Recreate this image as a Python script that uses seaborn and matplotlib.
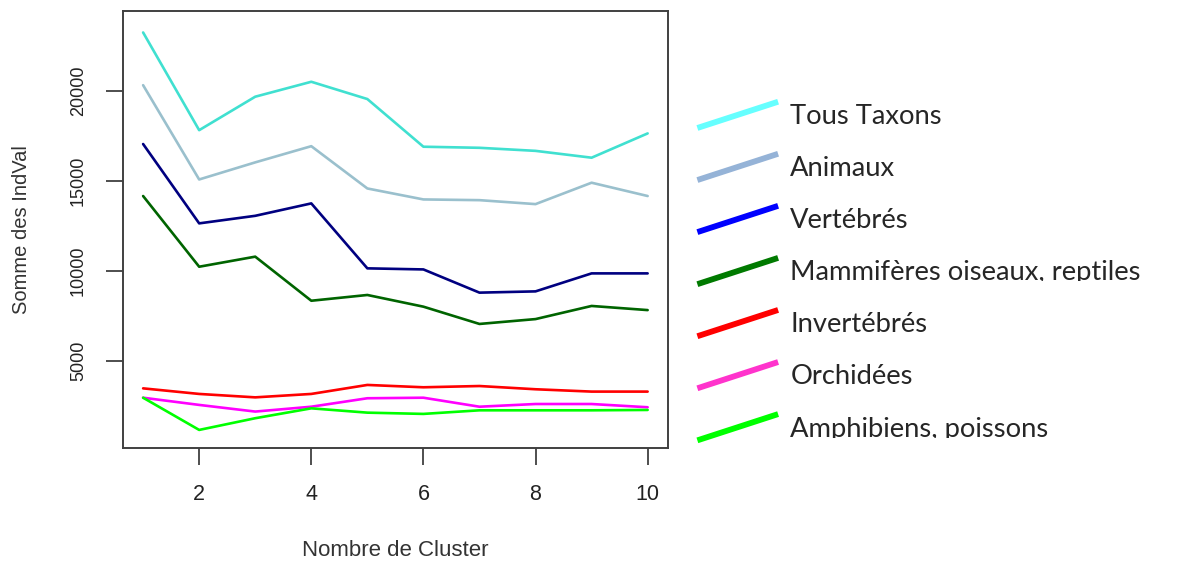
import numpy as np
import pandas as pd
import seaborn as sns
import matplotlib
matplotlib.use("Agg")
import matplotlib.pyplot as plt
from matplotlib.lines import Line2D
from matplotlib.legend_handler import HandlerLine2D
from matplotlib.transforms import Bbox

# Number of clusters tested
clusters = [1, 2, 3, 4, 5, 6, 7, 8, 9, 10]

# Sum of IndVal per taxonomic group
tous_taxons = [23260, 17830, 19690, 20520, 19560, 16910, 16850, 16680, 16300, 17650]
animaux = [20330, 15090, 16040, 16940, 14590, 13980, 13940, 13720, 14910, 14170]
vertebres = [17060, 12650, 13070, 13760, 10150, 10090, 8800, 8870, 9870, 9870]
mammiferes = [14170, 10240, 10800, 8350, 8670, 8020, 7060, 7330, 8060, 7830]
invertebres = [3480, 3170, 2980, 3170, 3670, 3540, 3610, 3430, 3300, 3300]
orchidees = [2960, 2560, 2190, 2460, 2930, 2960, 2460, 2610, 2610, 2430]
amphibiens = [2960, 1170, 1820, 2370, 2130, 2060, 2260, 2260, 2260, 2280]

groups = ["Tous Taxons", "Animaux", "Vertébrés", "Mammifères oiseaux, reptiles",
          "Invertébrés", "Orchidées", "Amphibiens, poissons"]
series = [tous_taxons, animaux, vertebres, mammiferes, invertebres, orchidees, amphibiens]

line_colors = ["#40E0D0", "#9AC0CD", "#000080", "#006400", "#FF0000", "#FF00FF", "#00FF00"]
key_colors = ["#66FFFF", "#95B3D7", "#0000FF", "#007A00", "#FF0000", "#FF33CC", "#00FF00"]

df = pd.DataFrame({
    "cluster": np.tile(clusters, len(groups)),
    "indval": np.concatenate(series),
    "groupe": np.repeat(groups, len(clusters)),
})

sns.set_theme(style="white")
plt.rcParams["font.family"] = ["Liberation Sans", "DejaVu Sans"]

fig = plt.figure(figsize=(11.82, 5.62), dpi=100)
ax = fig.add_axes([0.104, 0.203, 0.461, 0.777])

sns.lineplot(data=df, x="cluster", y="indval", hue="groupe", hue_order=groups,
             palette=dict(zip(groups, line_colors)), linewidth=1.9, ax=ax,
             legend=False)

ax.set_xlim(0.64, 10.36)
ax.set_ylim(170, 24440)
ax.set_xticks([2, 4, 6, 8, 10])
ax.set_yticks([5000, 10000, 15000, 20000])

for side in ax.spines.values():
    side.set_color("#404040")
    side.set_linewidth(1.4)
    side.set_visible(True)

ax.tick_params(axis="both", direction="out", length=12, width=1.3,
               color="#404040", labelcolor="#222222", pad=14)
ax.tick_params(axis="x", bottom=True, labelsize=15.5)
ax.tick_params(axis="y", left=True, labelsize=13)
plt.setp(ax.get_yticklabels(), rotation=90, va="center")

ax.set_xlabel("Nombre de Cluster", fontsize=16, color="#333333", labelpad=25)
ax.set_ylabel("Somme des IndVal", fontsize=14.5, color="#333333", labelpad=28)


class SlantedLine(HandlerLine2D):
    """Legend key drawn as a rising diagonal stroke."""

    def create_artists(self, legend, orig_handle, xdescent, ydescent,
                       width, height, fontsize, trans):
        line = Line2D([-xdescent, -xdescent + width],
                      [-ydescent, -ydescent + height])
        self.update_prop(line, orig_handle, legend)
        line.set_transform(trans)
        return [line]


handles = [Line2D([], [], color=c, linewidth=4.2, solid_capstyle="butt")
           for c in key_colors]
leg = fig.legend(handles, groups, loc="upper left",
                 bbox_to_anchor=(0.590, 0.819), frameon=False,
                 prop={"family": ["Lato", "DejaVu Sans"], "size": 19.7},
                 handlelength=2.95, handleheight=1.1, handletextpad=0.45,
                 labelspacing=0.9, borderpad=0, borderaxespad=0,
                 handler_map={Line2D: SlantedLine()})

# The two longest captions sit in boxes that cut off their descenders
fig.canvas.draw()
renderer = fig.canvas.get_renderer()
for txt in leg.get_texts()[3::3]:
    ext = txt.get_window_extent(renderer)
    _, _, descent = renderer.get_text_width_height_descent(
        txt.get_text(), txt.get_fontproperties(), ismath=False)
    txt.set_clip_box(Bbox.from_extents(ext.x0 - 5, ext.y0 + descent * 0.8,
                                       ext.x1 + 5, ext.y1 + 5))
    txt.set_clip_on(True)

fig.savefig("out.png", dpi=100, facecolor="white")
